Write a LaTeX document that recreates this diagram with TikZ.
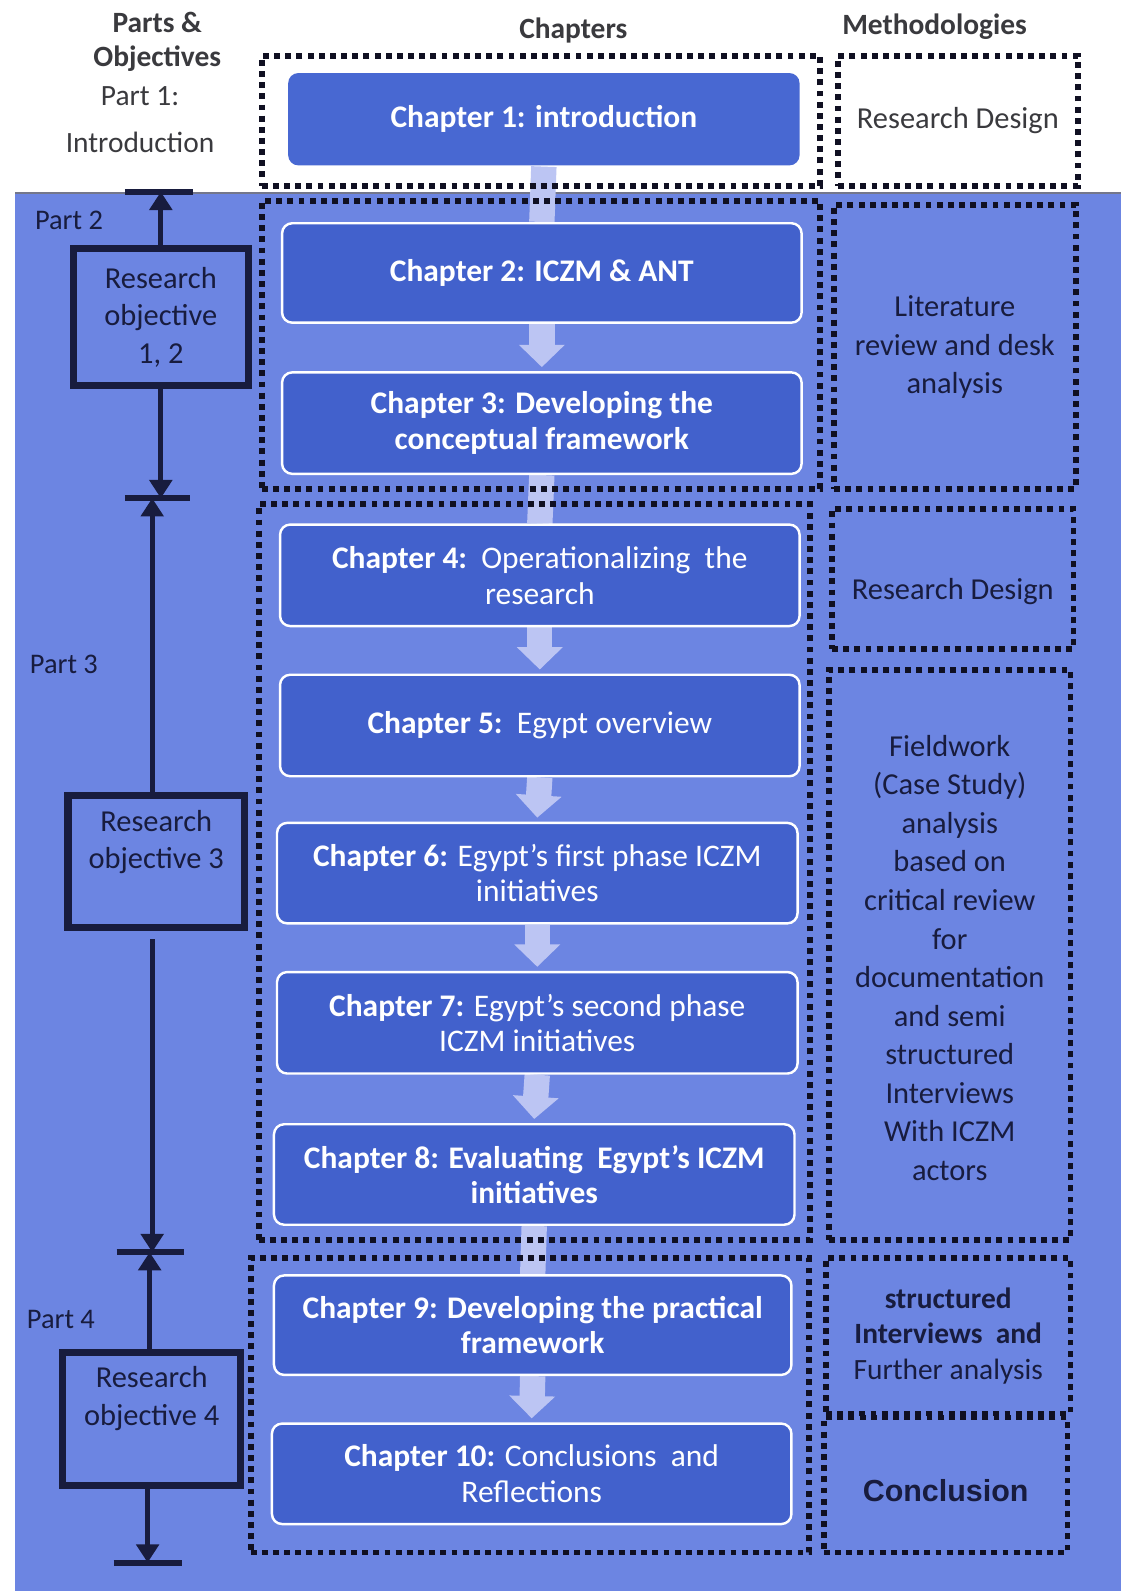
\documentclass[tikz,border=0pt]{standalone}
\usepackage{fontspec}
\setmainfont{Carlito}
\newfontfamily\arialfont{Liberation Sans}
\usetikzlibrary{arrows.meta}
\pgfdeclarelayer{backdrop}
\pgfdeclarelayer{flow}
\pgfsetlayers{backdrop,flow,main}

\definecolor{panel}{RGB}{108,133,226}
\definecolor{chapfill}{RGB}{66,97,204}
\definecolor{chaponwhite}{RGB}{72,104,210}
\definecolor{flowc}{RGB}{188,197,243}
\definecolor{ink}{RGB}{24,28,62}
\definecolor{headgray}{RGB}{58,58,62}
\definecolor{dotc}{RGB}{16,16,34}

\tikzset{
  chapbox/.style={rectangle, rounded corners=5pt, fill=chapfill, draw=white,
    line width=1.2pt, text=white, align=center, font=\fontsize{15.5}{17.5}\selectfont,
    inner sep=2pt},
  dotbox/.style={rectangle, draw=dotc, line width=2.9pt,
    dash pattern=on 2.9pt off 2.6pt, inner sep=0pt},
  methtext/.style={text=ink, align=center, font=\fontsize{15}{19}\selectfont},
  objbox/.style={rectangle, draw=ink, line width=3.5pt, inner sep=0pt},
  objtext/.style={text=ink, align=center, font=\fontsize{15}{18.5}\selectfont},
  parttext/.style={text=ink, font=\fontsize{14}{16}\selectfont},
  spine/.style={draw=ink, line width=2.6pt},
  spinebar/.style={draw=ink, line width=3pt},
  spinetip/.style={-{Triangle[width=11pt,length=9pt]}},
  flowarrow/.style={draw=flowc, line width=12.5pt,
    -{Triangle[width=22pt,length=11pt]}},
  flowshaft/.style={draw=flowc, line width=12.5pt},
  headbold/.style={text=headgray, font=\bfseries\fontsize{14.5}{16}\selectfont},
  headplain/.style={text=headgray, font=\fontsize{14.5}{16}\selectfont},
}

\begin{document}
\begin{tikzpicture}[x=0.5pt, y=-0.5pt]
\useasboundingbox (0,0) rectangle (1107,1568);

% page and blue panel behind parts 2--4
\begin{pgfonlayer}{backdrop}
  \fill[white] (0,0) rectangle (1107,1568);
  \fill[panel] (15,190) rectangle (1105,1568);
  \draw[ink!60, line width=0.8pt] (15,190) -- (1105,190);
\end{pgfonlayer}

% column headings
\node[headbold] (hparts) at (155,22) {Parts \&};
\node[headbold] (hobj) at (155,58) {Objectives};
\node[headplain] (hpart1) at (138,95) {Part 1:};
\node[headplain] (hintro) at (138,140) {Introduction};
\node[headbold] (hchap) at (565,30) {Chapters};
\node[headbold] (hmeth) at (921,26) {Methodologies};

% chapters
\node[chapbox, draw=none, fill=chaponwhite, minimum width=252pt, minimum height=45.5pt]
  (c1) at (536,117.5) {\bfseries Chapter 1: introduction};
\node[chapbox, minimum width=256pt, minimum height=49pt]
  (c2) at (534,269) {\bfseries Chapter 2: ICZM \& ANT};
\node[chapbox, minimum width=256pt, minimum height=50pt]
  (c3) at (534,417) {\bfseries Chapter 3: Developing the\\\bfseries conceptual framework};
\node[chapbox, minimum width=256pt, minimum height=50pt]
  (c4) at (532,567) {\textbf{Chapter 4:}\ \ Operationalizing\ \ the\\research};
\node[chapbox, minimum width=256pt, minimum height=50pt]
  (c5) at (532,715) {\textbf{Chapter 5:}\ \ Egypt overview};
\node[chapbox, minimum width=256.5pt, minimum height=49.5pt]
  (c6) at (529.5,860.5) {\textbf{Chapter 6:} Egypt’s first phase ICZM\\initiatives};
\node[chapbox, minimum width=256.5pt, minimum height=50pt]
  (c7) at (529.5,1008) {\textbf{Chapter 7:} Egypt’s second phase\\ICZM initiatives};
\node[chapbox, minimum width=256.5pt, minimum height=49.5pt]
  (c8) at (526.5,1157.5) {\bfseries Chapter 8: Evaluating\ \ Egypt’s ICZM\\\bfseries initiatives};
\node[chapbox, minimum width=255pt, minimum height=49pt]
  (c9) at (525,1306) {\bfseries Chapter 9: Developing the practical\\\bfseries framework};
\node[chapbox, minimum width=256pt, minimum height=49.5pt]
  (c10) at (524,1452.5) {\textbf{Chapter 10:} Conclusions\ \ and\\Reflections};

% flow between chapters
\begin{pgfonlayer}{flow}
  \draw[flowshaft] (c1.south) -- (c2.north);
  \draw[flowarrow] (c2.south) -- ([yshift=2pt]c3.north);
  \draw[flowshaft] (c3.south) -- (c4.north);
  \draw[flowarrow] (c4.south) -- ([yshift=2pt]c5.north);
  \draw[flowarrow] (c5.south) -- ([yshift=2pt]c6.north);
  \draw[flowarrow] (c6.south) -- ([yshift=2pt]c7.north);
  \draw[flowarrow] (c7.south) -- ([yshift=2pt]c8.north);
  \draw[flowshaft] (c8.south) -- (c9.north);
  \draw[flowarrow] (c9.south) -- ([yshift=2pt]c10.north);
\end{pgfonlayer}

% dotted chapter groups
\node[dotbox, minimum width=275pt, minimum height=64pt] (g1) at (533,119) {};
\node[dotbox, minimum width=275pt, minimum height=142pt] (g2) at (533,340) {};
\node[dotbox, minimum width=271.5pt, minimum height=362.5pt] (g3) at (526.5,859.5) {};
\node[dotbox, minimum width=275pt, minimum height=145pt] (g4) at (522,1385) {};

% methodologies
\node[dotbox, minimum width=118pt, minimum height=64pt] (m1) at (944,119) {};
\node[methtext, text=headgray] at (m1) {Research Design};
\node[dotbox, minimum width=119pt, minimum height=140pt] (m2) at (941,342) {};
\node[methtext] at (m2) {Literature\\review and desk\\analysis};
\node[dotbox, minimum width=119pt, minimum height=69pt] (m3) at (939,571) {};
\node[methtext] at ([yshift=-6pt]m3.center) {Research Design};
\node[dotbox, minimum width=119pt, minimum height=281pt] (m4) at (936,941) {};
\node[methtext] at ([yshift=-1.5pt]m4.center) {Fieldwork\\(Case Study)\\analysis\\based on\\critical review\\for\\documentation\\and semi\\structured\\Interviews\\With ICZM\\actors};
\node[dotbox, minimum width=120.5pt, minimum height=76.5pt] (m5) at (934.5,1316.5) {};
\node[methtext, font=\fontsize{14.5}{17.5}\selectfont] at (m5)
  {\textbf{structured}\\\textbf{Interviews\ \ and}\\Further analysis};
\node[dotbox, minimum width=120pt, minimum height=66.5pt] (m6) at (932,1463.5) {};
\node[methtext, font=\arialfont\bfseries\fontsize{15}{18}\selectfont] at ([yshift=-3pt]m6.center) {Conclusion};

% parts and objectives spine
\coordinate (b1l) at (123,189); \coordinate (b1r) at (190,189);
\coordinate (b2l) at (123,491); \coordinate (b2r) at (187,491);
\coordinate (b3l) at (115,1234); \coordinate (b3r) at (181,1234);
\coordinate (b4l) at (112,1540); \coordinate (b4r) at (179,1540);

\node[objbox, minimum width=86.5pt, minimum height=67.5pt] (o1) at (158.5,312.5) {};
\node[objtext] at (o1) {Research\\objective\\1, 2};
\node[objbox, minimum width=87pt, minimum height=65pt] (o3) at (154,849) {};
\node[objtext] at ([yshift=9.5pt]o3.center) {Research\\objective 3};
\node[objbox, minimum width=87.5pt, minimum height=65.5pt] (o4) at (149.5,1398.5) {};
\node[objtext] at ([yshift=10pt]o4.center) {Research\\objective 4};

\draw[spinebar] (b1l) -- (b1r);
\draw[spinebar] (b2l) -- (b2r);
\draw[spinebar] (b3l) -- (b3r);
\draw[spinebar] (b4l) -- (b4r);

\draw[spine, spinetip] (o1.north) -- (o1.north |- b1l);
\draw[spine, spinetip] (o1.south) -- (o1.south |- b2l);
\draw[spine, spinetip] ([xshift=-2pt]o3.north) -- ([xshift=-2pt]o3.north |- b2l);
\draw[spine, spinetip] ([xshift=-2pt,yshift=-4pt]o3.south) -- ([xshift=-2pt]o3.south |- b3l);
\draw[spine, spinetip] ([xshift=-1pt]o4.north) -- ([xshift=-1pt]o4.north |- b3l);
\draw[spine, spinetip] ([xshift=-2pt]o4.south) -- ([xshift=-2pt]o4.south |- b4l);

\node[parttext] (p2) at (68,217) {Part 2};
\node[parttext] (p3) at (63,655) {Part 3};
\node[parttext] (p4) at (60,1300) {Part 4};
\end{tikzpicture}
\end{document}
